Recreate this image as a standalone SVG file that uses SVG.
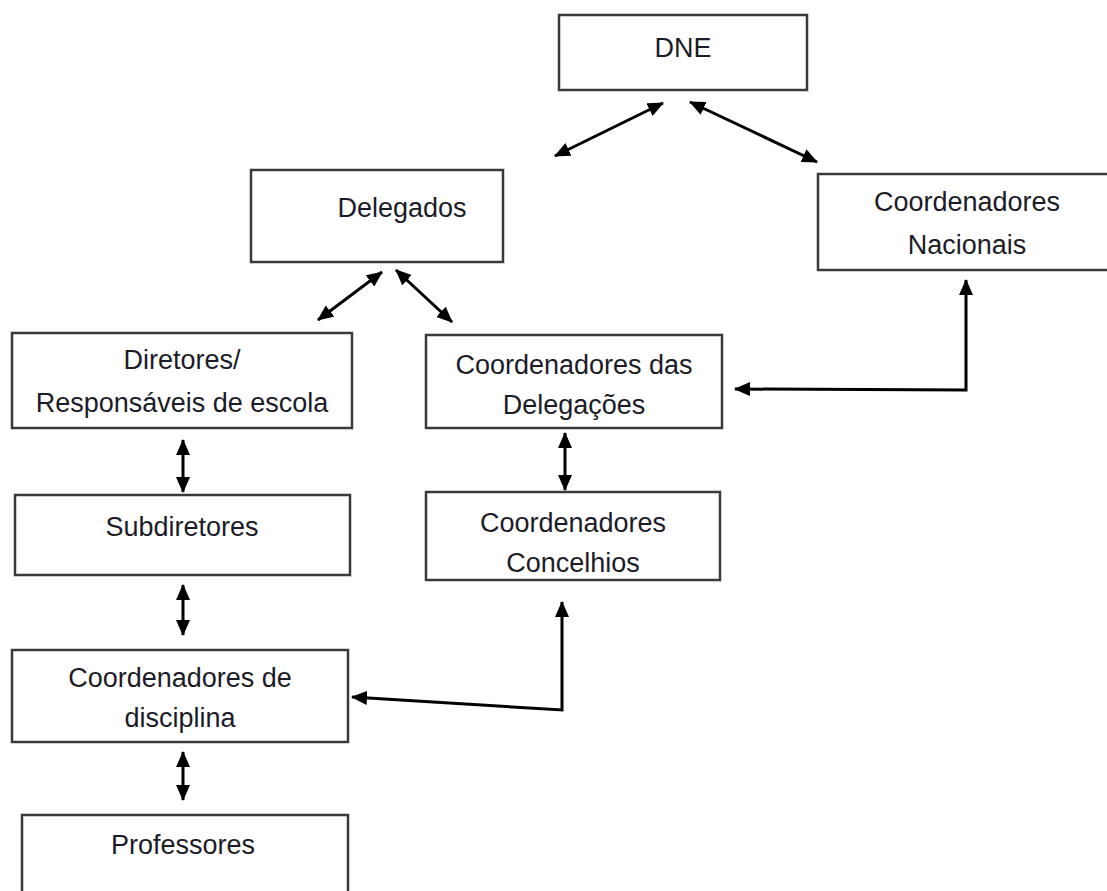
<svg xmlns="http://www.w3.org/2000/svg" width="1107" height="891" viewBox="0 0 1107 891">
<style>
.box{fill:#fff;stroke:#3a3a3a;stroke-width:2.5}
.t{font-family:"Liberation Sans",Arial,sans-serif;font-size:27px;fill:#1c1c28;text-anchor:middle}
.c{fill:none;stroke:#000;stroke-width:3;marker-start:url(#ah);marker-end:url(#ah)}
</style>
<defs>
<marker id="ah" viewBox="0 0 16 14" refX="15" refY="7" markerWidth="16" markerHeight="14" markerUnits="userSpaceOnUse" orient="auto-start-reverse">
<path d="M0,0 L16,7 L0,14 z" fill="#000"/>
</marker>
</defs>
<rect width="1107" height="891" fill="#fff"/>
<g id="connectors">
<line class="c" x1="663" y1="103" x2="555" y2="156"/>
<line class="c" x1="690" y1="102" x2="817" y2="162"/>
<line class="c" x1="382" y1="272" x2="318" y2="320"/>
<line class="c" x1="396" y1="270" x2="452" y2="322"/>
<line class="c" x1="183" y1="440" x2="183" y2="492"/>
<line class="c" x1="183" y1="585" x2="183" y2="635"/>
<line class="c" x1="183" y1="752" x2="183" y2="800"/>
<line class="c" x1="565" y1="433" x2="565" y2="490"/>
<polyline class="c" points="735,389 966,390 966,280"/>
<polyline class="c" points="562,602 562,710 352,697"/>
</g>
<g id="dne"><rect class="box" x="559" y="15" width="248" height="75"/><text class="t" x="683" y="57">DNE</text></g>
<g id="delegados"><rect class="box" x="251" y="170" width="252" height="92"/><text class="t" x="402" y="217">Delegados</text></g>
<g id="coord-nacionais"><rect class="box" x="818" y="174" width="300" height="96"/><text class="t" x="967" y="211">Coordenadores</text><text class="t" x="967" y="254">Nacionais</text></g>
<g id="diretores"><rect class="box" x="12" y="333" width="340" height="95"/><text class="t" x="182" y="369">Diretores/</text><text class="t" x="182" y="412">Responsáveis de escola</text></g>
<g id="coord-delegacoes"><rect class="box" x="426" y="335" width="296" height="93"/><text class="t" x="574" y="374">Coordenadores das</text><text class="t" x="574" y="414">Delegações</text></g>
<g id="subdiretores"><rect class="box" x="15" y="495" width="335" height="80"/><text class="t" x="182" y="536">Subdiretores</text></g>
<g id="coord-concelhios"><rect class="box" x="426" y="492" width="294" height="88"/><text class="t" x="573" y="532">Coordenadores</text><text class="t" x="573" y="572">Concelhios</text></g>
<g id="coord-disciplina"><rect class="box" x="12" y="650" width="336" height="92"/><text class="t" x="180" y="687">Coordenadores de</text><text class="t" x="180" y="727">disciplina</text></g>
<g id="professores"><rect class="box" x="22" y="815" width="326" height="90"/><text class="t" x="183" y="854">Professores</text></g>
</svg>
